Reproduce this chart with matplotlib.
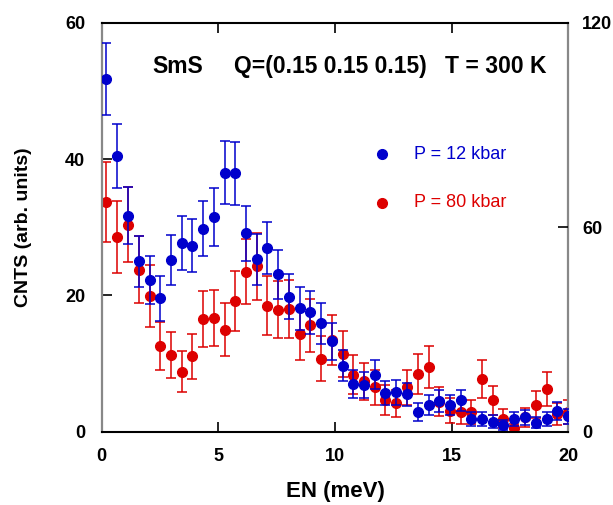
import numpy as np
import matplotlib
matplotlib.use("Agg")
import matplotlib.pyplot as plt

plt.rcParams['font.family'] = ['Liberation Sans', 'DejaVu Sans']

# energy transfer (meV)
en = [0.19, 0.67, 1.13, 1.59, 2.05, 2.49, 2.95, 3.43, 3.89, 4.36, 4.81,
      5.27, 5.72, 6.18, 6.65, 7.10, 7.57, 8.03, 8.49, 8.94, 9.42, 9.87,
      10.33, 10.78, 11.23, 11.70, 12.16, 12.63, 13.09, 13.55, 14.01, 14.46,
      14.92, 15.39, 15.85, 16.31, 16.77, 17.21, 17.68, 18.15, 18.61, 19.07,
      19.53, 19.99]

# P = 12 kbar
cnts_12 = [51.7, 40.4, 31.7, 25.0, 22.3, 19.6, 25.2, 27.7, 27.3, 29.8, 31.5,
           38.0, 37.9, 29.1, 25.3, 27.0, 23.1, 19.8, 18.1, 17.5, 15.9, 13.3,
           9.7, 7.0, 6.8, 8.4, 5.7, 5.8, 5.5, 2.9, 3.9, 4.5,
           3.9, 4.6, 1.9, 1.9, 1.5, 1.0, 1.9, 2.1, 1.3, 1.9,
           3.1, 2.3]
err_12 = [5.3, 4.7, 4.2, 3.7, 3.5, 3.3, 3.7, 3.9, 3.9, 4.0, 4.2,
          4.6, 4.6, 4.0, 3.7, 3.8, 3.6, 3.3, 3.1, 3.1, 3.0, 2.7,
          2.3, 2.0, 1.9, 2.1, 1.8, 1.8, 1.7, 1.3, 1.5, 1.6,
          1.5, 1.6, 1.0, 1.0, 0.9, 0.7, 1.0, 1.1, 0.8, 1.0,
          1.3, 1.1]

# P = 80 kbar
cnts_80 = [33.7, 28.6, 30.4, 23.8, 19.9, 12.6, 11.3, 8.8, 11.1, 16.6, 16.7,
           15.0, 19.2, 23.5, 24.3, 18.5, 17.9, 18.0, 14.3, 15.6, 10.7, 13.5,
           11.4, 8.4, 7.4, 6.5, 4.7, 4.2, 6.5, 8.5, 9.5, 4.4,
           3.1, 2.9, 2.9, 7.8, 4.6, 1.9, 0.5, 2.1, 4.0, 6.3,
           2.6, 2.9]
err_80 = [5.8, 5.3, 5.5, 4.9, 4.5, 3.5, 3.4, 3.0, 3.3, 4.1, 4.1,
          3.9, 4.4, 4.8, 4.9, 4.3, 4.2, 4.2, 3.8, 3.9, 3.3, 3.7,
          3.4, 2.9, 2.7, 2.5, 2.2, 2.0, 2.5, 2.9, 3.1, 2.1,
          1.8, 1.7, 1.7, 2.8, 2.1, 1.4, 0.7, 1.4, 2.0, 2.5,
          1.6, 1.7]

blue = '#0000cc'
red = '#dd0000'

fig = plt.figure(figsize=(6.13, 5.05), dpi=100)
ax = fig.add_axes([0.166, 0.145, 0.761, 0.810])

ax.errorbar(en, cnts_80, yerr=err_80, fmt='o', color=red, ms=7,
            ecolor=red, elinewidth=1.1, capsize=3.6, capthick=1.1, zorder=2)
ax.errorbar(en, cnts_12, yerr=err_12, fmt='o', color=blue, ms=7,
            ecolor=blue, elinewidth=1.1, capsize=3.6, capthick=1.1, zorder=3)

ax.set_xlim(0, 20)
ax.set_ylim(0, 60)
ax.set_xticks([0, 5, 10, 15, 20])
ax.set_yticks([0, 20, 40, 60])
ax.tick_params(axis='x', direction='in', top=True, length=7, width=1.2,
               labelsize=13, pad=12)
ax.tick_params(axis='y', direction='in', length=7, width=1.2,
               labelsize=13, pad=12)
for t in ax.xaxis.get_major_ticks():
    t.tick1line.set_color('#666666')
for lab in ax.get_xticklabels() + ax.get_yticklabels():
    lab.set_fontweight('bold')

ax.spines['left'].set_color('#888888')
ax.spines['right'].set_color('#888888')
for s in ['left', 'right']:
    ax.spines[s].set_linewidth(1.6)
for s in ['top', 'bottom']:
    ax.spines[s].set_linewidth(1.5)

ax2 = ax.twinx()
ax2.set_ylim(0, 120)
ax2.set_yticks([0, 60, 120])
ax2.tick_params(axis='y', direction='in', length=7, width=1.2,
                labelsize=13, pad=10)
for lab in ax2.get_yticklabels():
    lab.set_fontweight('bold')
for s in ax2.spines.values():
    s.set_visible(False)

ax.set_xlabel('EN (meV)', fontsize=16, fontweight='bold', labelpad=11)
ax.set_ylabel('CNTS (arb. units)', fontsize=14, fontweight='bold', labelpad=24)

ax.text(2.19, 52.6, 'SmS', fontsize=16.5, fontweight='bold', va='baseline')
ax.text(5.67, 52.6, 'Q=(0.15 0.15 0.15)', fontsize=16.5, fontweight='bold',
        va='baseline')
ax.text(14.7, 52.6, 'T = 300 K', fontsize=16.5, fontweight='bold', va='baseline')

# legend-like labels
ax.plot([12.0], [40.7], 'o', color=blue, ms=7)
ax.text(13.4, 40.7, 'P = 12 kbar', color=blue, fontsize=13, va='center')
ax.plot([12.0], [33.6], 'o', color=red, ms=7)
ax.text(13.4, 33.6, 'P = 80 kbar', color=red, fontsize=13, va='center')

fig.savefig('out.png', dpi=100)
